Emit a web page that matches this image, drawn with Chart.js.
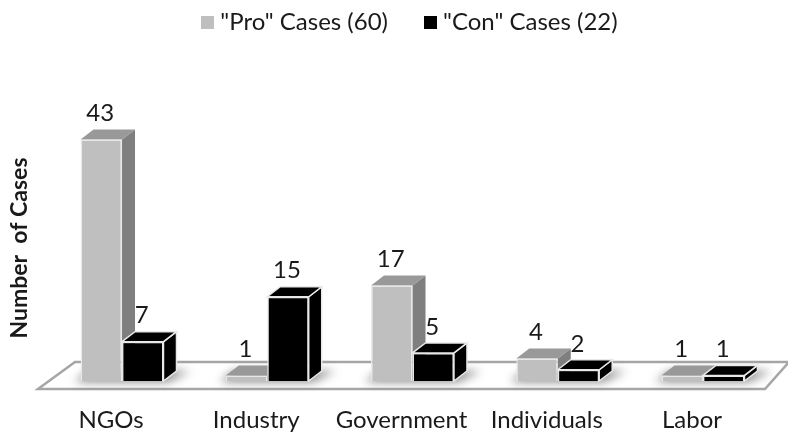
<!DOCTYPE html>
<html>
<head>
<meta charset="utf-8">
<style>
  html, body { margin: 0; padding: 0; background: #fff; }
  #wrap { width: 788px; height: 433px; }
</style>
<script src="https://cdn.jsdelivr.net/npm/chart.js@4"></script>
</head>
<body>
<div id="wrap"><canvas id="myChart" width="788" height="433"></canvas></div>
<script>
"use strict";

const categories = ["NGOs", "Industry", "Government", "Individuals", "Labor"];
const proCases = [43, 1, 17, 4, 1];
const conCases = [7, 15, 5, 2, 1];
const seriesNames = ['"Pro" Cases (60)', '"Con" Cases (22)'];
const axisTitle = "Number  of Cases";

const fontName = "Lato, 'Open Sans', sans-serif";
const depthX = 13;
const depthY = 10;

// legend swatch, a bare rect so the gap to the text stays small
const swatch = (color) => {
    const c = document.createElement("canvas");
    c.width = 13;
    c.height = 13;
    const g = c.getContext("2d");
    g.fillStyle = color;
    g.fillRect(0, 0, 13, 13);
    return c;
};
const swatches = [swatch("#bfbfbf"), swatch("#000000")];

const faces = [
    { top: "#999999", side: "#7f7f7f", edge: "#8a8a8a" },
    { top: "#000000", side: "#000000", edge: "#e8e8e8" }
];

const poly = (ctx, pts) => {
    ctx.beginPath();
    pts.forEach((p, i) => i ? ctx.lineTo(p[0], p[1]) : ctx.moveTo(p[0], p[1]));
    ctx.closePath();
};

const barRect = (bar) => ({
    left: bar.x - bar.width / 2,
    right: bar.x + bar.width / 2,
    top: bar.y,
    bottom: bar.base
});

const fakeThreeD = {
    id: "fakeThreeD",
    beforeDatasetsDraw(chart) {
        const ctx = chart.ctx;
        const area = chart.chartArea;
        const floorFront = area.bottom + 8;
        const floorBack = area.bottom - 19;

        // floor
        ctx.save();
        poly(ctx, [[38, floorFront], [765, floorFront], [789, floorBack], [75, floorBack]]);
        ctx.fillStyle = "#ffffff";
        ctx.fill();
        ctx.strokeStyle = "#a6a6a6";
        ctx.lineWidth = 2.5;
        ctx.stroke();
        ctx.restore();

        // soft shadows on the floor
        ctx.save();
        ctx.filter = "blur(5px)";
        ctx.fillStyle = "rgba(60,60,60,0.6)";
        chart.getDatasetMeta(0).data.forEach((bar, i) => {
            const a = barRect(bar);
            const b = barRect(chart.getDatasetMeta(1).data[i]);
            poly(ctx, [[a.left - 6, a.bottom + 1], [b.right + 4, a.bottom + 1], [b.right + depthX + 14, a.bottom - depthY], [a.left + 8, a.bottom - depthY]]);
            ctx.fill();
        });
        ctx.restore();

        // tops and sides, first series first so the second one overlaps it
        [0, 1].forEach((d) => {
            chart.getDatasetMeta(d).data.forEach((bar) => {
                const r = barRect(bar);
                ctx.save();
                ctx.lineWidth = 1.5;
                ctx.strokeStyle = faces[d].edge;
                poly(ctx, [[r.right, r.top], [r.right + depthX, r.top - depthY], [r.right + depthX, r.bottom - depthY], [r.right, r.bottom]]);
                ctx.fillStyle = faces[d].side;
                ctx.fill();
                if (d === 1) ctx.stroke();
                poly(ctx, [[r.left, r.top], [r.left + depthX, r.top - depthY], [r.right + depthX, r.top - depthY], [r.right, r.top]]);
                ctx.fillStyle = faces[d].top;
                ctx.fill();
                if (d === 1) ctx.stroke();
                ctx.restore();
            });
        });
    },
    afterDatasetsDraw(chart) {
        const ctx = chart.ctx;
        ctx.save();
        ctx.fillStyle = "#1a1a1a";
        ctx.font = "24px " + fontName;
        ctx.textAlign = "center";
        ctx.textBaseline = "middle";
        [proCases, conCases].forEach((values, d) => {
            chart.getDatasetMeta(d).data.forEach((bar, i) => {
                ctx.fillText(values[i], bar.x - 1, bar.y - 26);
            });
        });
        // axis title
        ctx.translate(20, 248);
        ctx.rotate(-Math.PI / 2);
        ctx.font = "bold 23px " + fontName;
        ctx.fillText(axisTitle, 0, 0);
        ctx.restore();
    }
};

new Chart(document.getElementById("myChart"), {
    type: "bar",
    data: {
        labels: categories,
        datasets: [
            { label: seriesNames[0], data: proCases, backgroundColor: "#bfbfbf", borderColor: "#e8e8e8", borderWidth: 1.5 },
            { label: seriesNames[1], data: conCases, backgroundColor: "#000000", borderColor: "#e8e8e8", borderWidth: 1.5 }
        ]
    },
    options: {
        responsive: false,
        animation: false,
        categoryPercentage: 0.571,
        barPercentage: 1,
        layout: { padding: { top: -32, left: 49.4, right: 12.4, bottom: 0 } },
        plugins: {
            tooltip: { enabled: false },
            legend: {
                position: "top",
                labels: {
                    color: "#1a1a1a",
                    font: { family: fontName, size: 24 },
                    padding: 42,
                    usePointStyle: true,
                    pointStyleWidth: 1,
                    generateLabels: (chart) => seriesNames.map((name, i) => ({
                        text: name,
                        datasetIndex: i,
                        pointStyle: swatches[i],
                        fontColor: "#1a1a1a",
                        lineWidth: 0
                    }))
                }
            }
        },
        scales: {
            x: {
                grid: { display: false },
                border: { display: false },
                ticks: {
                    color: "#1a1a1a",
                    font: { family: fontName, size: 24 },
                    maxRotation: 0,
                    autoSkip: false,
                    labelOffset: -11,
                    padding: 17
                },
                afterFit: (axis) => { axis.height = 52; }
            },
            y: {
                display: false,
                min: 0,
                max: 60
            }
        }
    },
    plugins: [fakeThreeD]
});
</script>
</body>
</html>
